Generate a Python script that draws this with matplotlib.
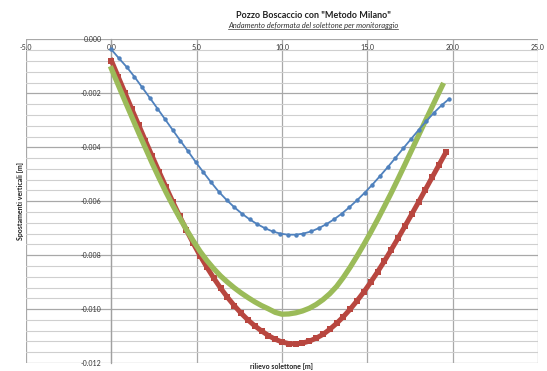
import numpy as np
import matplotlib
matplotlib.use('Agg')
import matplotlib.pyplot as plt
from matplotlib.lines import Line2D
from matplotlib.ticker import MultipleLocator

plt.rcParams['font.family'] = ['Lato', 'DejaVu Sans']

# rilievo solettone [m] / spostamenti verticali [mm] (verso il basso)
blue_x = [0, 0.45, 0.9, 1.35, 1.8, 2.25, 2.7, 3.15, 3.6, 4.05, 4.5, 4.95, 5.4, 5.85, 6.3,
          6.75, 7.2, 7.65, 8.1, 8.55, 9.0, 9.45, 9.9, 10.35, 10.8, 11.25, 11.7, 12.15, 12.6,
          13.05, 13.5, 13.95, 14.4, 14.85, 15.3, 15.75, 16.2, 16.65, 17.1, 17.55, 18.0,
          18.45, 18.9, 19.35, 19.8]
blue_mm = [0.37, 0.70, 1.02, 1.38, 1.77, 2.16, 2.56, 2.96, 3.36, 3.76, 4.15, 4.55, 4.93,
           5.30, 5.65, 5.95, 6.22, 6.46, 6.67, 6.85, 7.00, 7.12, 7.20, 7.24, 7.24, 7.20,
           7.12, 7.00, 6.85, 6.67, 6.46, 6.22, 5.96, 5.68, 5.38, 5.06, 4.73, 4.39, 4.04,
           3.70, 3.36, 3.03, 2.72, 2.44, 2.20]

red_x = [0, 0.4, 0.8, 1.2, 1.6, 2.0, 2.4, 2.8, 3.2, 3.6, 4.0, 4.4, 4.8, 5.2, 5.6, 6.0,
         6.4, 6.8, 7.2, 7.6, 8.0, 8.4, 8.8, 9.2, 9.6, 10.0, 10.4, 10.8, 11.2, 11.6, 12.0,
         12.4, 12.8, 13.2, 13.6, 14.0, 14.4, 14.8, 15.2, 15.6, 16.0, 16.4, 16.8, 17.2,
         17.6, 18.0, 18.4, 18.8, 19.2, 19.6]
red_mm = [0.78, 1.38, 1.98, 2.58, 3.17, 3.76, 4.34, 4.91, 5.47, 6.02, 6.55, 7.07, 7.56,
          8.02, 8.45, 8.85, 9.22, 9.56, 9.87, 10.15, 10.40, 10.62, 10.81, 10.98, 11.12,
          11.22, 11.28, 11.29, 11.26, 11.19, 11.08, 10.94, 10.75, 10.53, 10.28, 10.00,
          9.69, 9.36, 9.00, 8.62, 8.22, 7.80, 7.37, 6.93, 6.48, 6.03, 5.57, 5.11, 4.65, 4.19]

green_x = [0, 0.4, 0.8, 1.2, 1.6, 2.0, 2.4, 2.8, 3.2, 3.6, 4.0, 4.4, 4.8, 5.2, 5.6, 6.0,
           6.4, 6.8, 7.2, 7.6, 8.0, 8.4, 8.8, 9.2, 9.6, 10.0, 10.4, 10.8, 11.2, 11.6, 12.0,
           12.4, 12.8, 13.2, 13.6, 14.0, 14.4, 14.8, 15.2, 15.6, 16.0, 16.4, 16.8, 17.2,
           17.6, 18.0, 18.4, 18.8, 19.2, 19.4]
green_mm = [1.08, 1.68, 2.28, 2.87, 3.46, 4.03, 4.60, 5.14, 5.66, 6.15, 6.61, 7.05, 7.47,
            7.86, 8.20, 8.50, 8.77, 9.00, 9.21, 9.40, 9.57, 9.73, 9.87, 9.99, 10.12, 10.19,
            10.18, 10.14, 10.07, 9.97, 9.83, 9.65, 9.43, 9.16, 8.82, 8.44, 8.03, 7.60, 7.15,
            6.68, 6.19, 5.69, 5.17, 4.64, 4.10, 3.56, 3.02, 2.49, 1.96, 1.70]

x_ticks = [-5, 0, 5, 10, 15, 20, 25]

W, H = 547, 371
fig = plt.figure(figsize=(W / 100, H / 100), dpi=100)
ax = fig.add_axes([26 / W, 1 - 363 / H, 512 / W, (363 - 39.5) / H])

ax.plot(red_x, -np.array(red_mm) / 1000, color='#B8463F', lw=3.6, marker='s', ms=4.4,
        mew=0, zorder=3)
ax.plot(green_x, -np.array(green_mm) / 1000, color='#9BBB59', lw=3.8, zorder=4)
ax.plot(blue_x, -np.array(blue_mm) / 1000, color='#4F81BD', lw=1.3, marker='o', ms=3.2,
        mew=0, zorder=5)

ax.set_xlim(-5, 25)
ax.set_ylim(-0.012, 0)
ax.set_xticks(x_ticks)
ax.set_xticklabels(['%.1f' % v for v in x_ticks])
ax.yaxis.set_major_locator(MultipleLocator(0.002))
ax.yaxis.set_minor_locator(MultipleLocator(0.0004))
ax.yaxis.set_major_formatter(plt.FuncFormatter(lambda v, p: '%.3f' % v))

ax.grid(True, which='major', color='#A8A8A8', lw=0.9)
ax.grid(True, which='minor', axis='y', color='#CFCFCF', lw=0.8)
ax.set_axisbelow(True)

for s in ['top', 'right', 'bottom']:
    ax.spines[s].set_visible(False)
ax.spines['left'].set_position(('data', 0))
ax.spines['left'].set_color('#A0A0A0')
ax.spines['left'].set_linewidth(0.9)

ax.xaxis.set_ticks_position('top')
ax.tick_params(axis='x', length=0, pad=-8, labelsize=5, labelcolor='#333333')
ax.tick_params(axis='y', which='both', length=0, pad=7, labelsize=5, labelcolor='#333333')

fig.text(313 / W, 1 - 15 / H, 'Pozzo Boscaccio con "Metodo Milano"', ha='center',
         va='center', fontsize=6.5, fontweight='bold', color='#222222')
sub = fig.text(313 / W, 1 - 25.5 / H, 'Andamento deformata del solettone per monitoraggio',
               ha='center', va='center', fontsize=5.5, style='italic', color='#333333')
fig.text(21 / W, 1 - 201 / H, 'Spostamenti verticali [m]', rotation=90, ha='center',
         va='center', fontsize=5, fontweight='bold', color='#222222')
fig.text(282 / W, 1 - 370 / H, 'rilievo solettone [m]', ha='center', va='bottom',
         fontsize=5, fontweight='bold', color='#222222')

# underline of the subtitle
bb = sub.get_window_extent(renderer=fig.canvas.get_renderer())
uy = (bb.y0 + 0.5) / H
fig.add_artist(Line2D([bb.x0 / W, bb.x1 / W], [uy, uy], color='#333333', lw=0.5))

fig.savefig('out.png', dpi=100, facecolor='white')
